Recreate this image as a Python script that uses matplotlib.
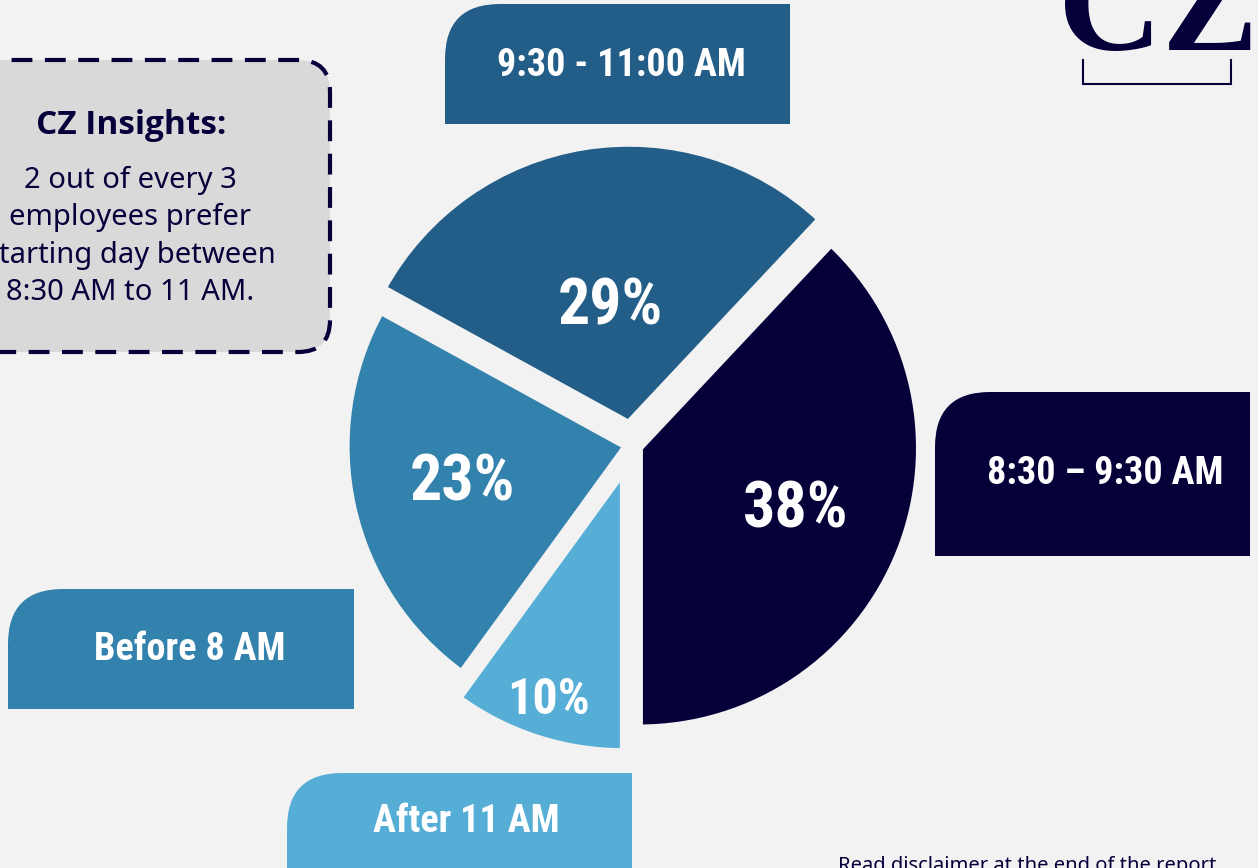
import matplotlib

matplotlib.use("Agg")
import matplotlib.pyplot as plt
import numpy as np
from matplotlib import font_manager
from matplotlib.patches import FancyBboxPatch, PathPatch
from matplotlib.path import Path

# data
slots = ["8:30 – 9:30 AM", "9:30 - 11:00 AM", "Before 8 AM", "After 11 AM"]
shares = [38, 29, 23, 10]
slot_colors = ["#050038", "#225e87", "#3382ae", "#56aed6"]
insight_title = "CZ Insights:"
insight_lines = [
    "2 out of every 3",
    "employees prefer",
    "starting day between",
    "8:30 AM to 11 AM.",
]
disclaimer = "Read disclaimer at the end of the report"

W, H = 1258, 868
BG = "#f2f2f2"
NAVY = "#05003a"


def fy(y):
    # reference pixel rows count from the top
    return H - y


def pick_condensed():
    fonts = font_manager.fontManager.ttflist
    names = {f.name for f in fonts}
    for fam in ["Liberation Sans Narrow", "Roboto Condensed", "Open Sans Condensed"]:
        if fam in names:
            return dict(family=fam), 1.0
    for f in fonts:
        if f.name == "DejaVu Sans" and str(f.stretch) in ("condensed", "semi-condensed"):
            return dict(family="DejaVu Sans", stretch="condensed"), 0.92
    return dict(family="Roboto"), 0.85


def pick_bold_sans():
    fonts = font_manager.fontManager.ttflist
    for fam in ["Noto Sans", "Open Sans", "Lato", "Roboto"]:
        for f in fonts:
            w = f.weight if isinstance(f.weight, int) else 700 * (str(f.weight) == "bold")
            if f.name == fam and w >= 600:
                return fam
    return "DejaVu Sans"


cond, k = pick_condensed()
bold_sans = pick_bold_sans()


def tab_box(ax, x0, y0, x1, y1, r, color):
    verts = [
        (x0, fy(y1)),
        (x1, fy(y1)),
        (x1, fy(y0)),
        (x0 + r, fy(y0)),
        (x0, fy(y0)),
        (x0, fy(y0) - r),
        (x0, fy(y1)),
    ]
    codes = [Path.MOVETO, Path.LINETO, Path.LINETO, Path.LINETO,
             Path.CURVE3, Path.CURVE3, Path.CLOSEPOLY]
    ax.add_patch(PathPatch(Path(verts, codes), facecolor=color, edgecolor="none"))


fig = plt.figure(figsize=(W / 100, H / 100), dpi=100, facecolor=BG)
ax = fig.add_axes([0, 0, 1, 1])
ax.set_facecolor(BG)

# pie
pie_center = (632, fy(445))
pie_radius = 280
explode = [8, 22, 6, 28]
wedges, _ = ax.pie(
    shares,
    colors=slot_colors,
    startangle=-90,
    counterclock=True,
    center=pie_center,
    radius=pie_radius,
    explode=explode,
    frame=True,
    wedgeprops=dict(edgecolor=BG, linewidth=5),
)

pct_dist = [0.6, 0.42, 0.6, 0.86]
pct_size = [46, 46, 46, 36]
for w, val, d, s in zip(wedges, shares, pct_dist, pct_size):
    th = np.deg2rad((w.theta1 + w.theta2) / 2)
    cx, cy = w.center
    ax.text(cx + d * w.r * np.cos(th), cy + d * w.r * np.sin(th), f"{val}%",
            color="white", fontsize=s * k, fontweight="semibold",
            ha="center", va="center", **cond)

# category tabs
tab_rects = [
    (935, 392, 1250, 556),
    (445, 4, 790, 124),
    (8, 589, 354, 709),
    (287, 773, 632, 890),
]
tab_text_pos = [(1105, 474), (621, 65), (190, 650), (466, 822)]
for name, col, (x0, y0, x1, y1), (tx, ty) in zip(slots, slot_colors, tab_rects, tab_text_pos):
    tab_box(ax, x0, y0, x1, y1, 55, col)
    ax.text(tx, fy(ty), name, color="white", fontsize=27.5 * k, fontweight="bold",
            ha="center", va="center", **cond)

# insight box
box = FancyBboxPatch((-70, fy(352)), 400, 292,
                     boxstyle="round,pad=0,rounding_size=32",
                     facecolor="#d9d9d9", edgecolor=NAVY, linewidth=3,
                     linestyle=(0, (5, 3)))
ax.add_patch(box)
ax.text(131, fy(134), insight_title, color=NAVY, fontsize=24, fontweight="bold",
        ha="center", va="baseline", family=bold_sans)
for i, line in enumerate(insight_lines):
    ax.text(130, fy(188 + i * 37.3), line, color=NAVY, fontsize=21,
            ha="center", va="baseline", family="Noto Sans")

# logo
ax.text(1158, fy(50), "CZ", color=NAVY, fontsize=104, fontweight="bold",
        ha="center", va="baseline", family="Liberation Serif")
ax.plot([1083, 1083, 1231, 1231], [fy(60), fy(84), fy(84), fy(60)],
        color=NAVY, lw=1.5, solid_joinstyle="miter")

# disclaimer
ax.text(838, fy(871), disclaimer, color=NAVY, fontsize=14.5,
        ha="left", va="baseline", family="Noto Sans")

ax.set_xlim(0, W)
ax.set_ylim(0, H)
ax.set_aspect("equal")
ax.axis("off")

fig.savefig("out.png", dpi=100, facecolor=BG)
